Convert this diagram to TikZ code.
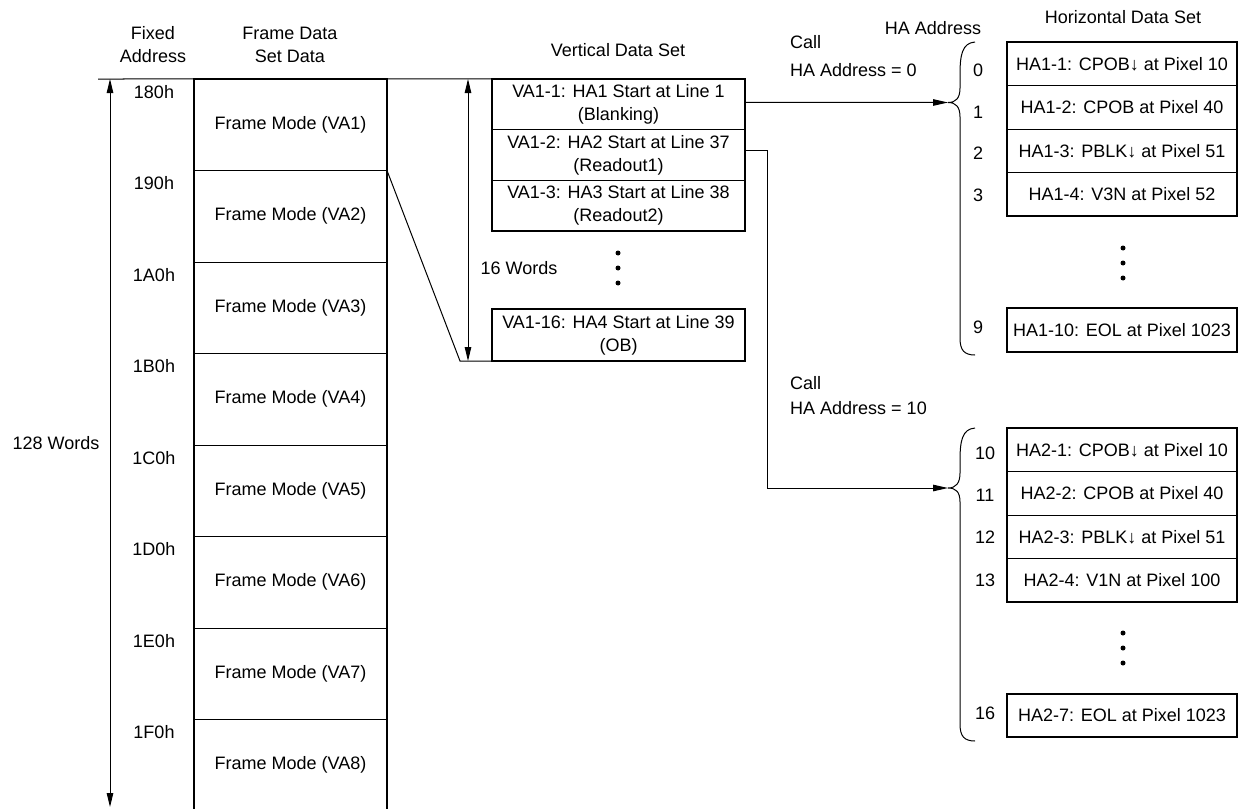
\documentclass[tikz,border=0pt]{standalone}
\usepackage{fontspec}
\setmainfont{Liberation Sans}
\usetikzlibrary{arrows.meta,calc}
\tikzset{
  lbl/.style={inner sep=0pt, font=\fontsize{18}{23}\selectfont, align=center},
  rowbox/.style={draw, line width=1pt, inner sep=0pt, outer sep=0pt, font=\fontsize{18}{23}\selectfont, align=center},
  frow/.style={rowbox, minimum width=193pt, minimum height=91.5pt},
  vrow/.style={rowbox, minimum width=253pt, minimum height=50.67pt},
  hrow/.style={rowbox, minimum width=230pt, minimum height=43.5pt},
  thickbox/.style={line width=2.2pt},
  ln/.style={line width=1pt},
  arr/.style={line width=1pt, -{Triangle[length=15pt,width=6.5pt]}},
  dbl/.style={line width=1pt, {Triangle[length=14pt,width=6.5pt]}-{Triangle[length=14pt,width=6.5pt]}},
  dot/.style={circle, fill, inner sep=0pt, minimum size=5pt},
}
\begin{document}
\begin{tikzpicture}[x=1pt,y=-1pt]
\useasboundingbox (0,0) rectangle (1238,808);
\clip (0,0) rectangle (1238,808);

% headers
\node[lbl] (hfix) at (153,44.5) {Fixed\\Address};
\node[lbl] (hfds) at (290,44.5) {Frame Data\\Set Data};
\node[lbl] (hvds) at (618,50) {Vertical Data Set};
\node[lbl] (hhaa) at (933,28) {HA Address};
\node[lbl] (hhds) at (1123,17) {Horizontal Data Set};

% frame data set column
\foreach \i in {1,...,8}{
  \node[frow] (f\i) at (290.5,{124.75+91.5*(\i-1)}) {Frame Mode (VA\i)};
}
\foreach \i/\a in {1/180h,2/190h,3/1A0h,4/1B0h,5/1C0h,6/1D0h,7/1E0h,8/1F0h}{
  \node[lbl] (a\i) at (154,{92+91.5*(\i-1)}) {\a};
}

% vertical data set
\node[vrow] (v1) at (618.5,104.33) {VA1-1: HA1 Start at Line 1\\(Blanking)};
\node[vrow] (v2) at (618.5,155) {VA1-2: HA2 Start at Line 37\\(Readout1)};
\node[vrow] (v3) at (618.5,205.67) {VA1-3: HA3 Start at Line 38\\(Readout2)};
\node[vrow, minimum height=52pt] (v16) at (618.5,335) {VA1-16: HA4 Start at Line 39\\(OB)};
\node[dot] (vd1) at (618,253) {};
\node[dot] (vd2) at (618,268) {};
\node[dot] (vd3) at (618,283) {};
\node[lbl] (w16) at (519,268) {16 Words};

% top line and left arrow
\coordinate (topL) at (98,79);
\draw[ln] (topL) -- (v1.north west);
\coordinate (lt) at (110,79);
\coordinate (lb) at (110,807);
\draw[dbl] (lt) -- (lb);
\node[lbl] (w128) at (56,443) {128 Words};

% 16 words arrow
\coordinate (wt) at (468,79);
\coordinate (wb) at (468,361);
\draw[dbl] (wt) -- (wb);

% diagonal
\coordinate (dg) at (460,361);
\draw[ln] (f1.south east) -- (dg) -- (v16.south west);

% thick outlines
\draw[thickbox] (f8.south west) -- (f1.north west) -- (f1.north east) -- (f8.south east);
\draw[thickbox] (v1.north west) rectangle (v3.south east);
\draw[thickbox] (v16.north west) rectangle (v16.south east);

% horizontal data set 1
\node[hrow] (h1) at (1122,63.75) {HA1-1: CPOB↓ at Pixel 10};
\node[hrow] (h2) at (1122,107.25) {HA1-2: CPOB at Pixel 40};
\node[hrow] (h3) at (1122,150.75) {HA1-3: PBLK↓ at Pixel 51};
\node[hrow] (h4) at (1122,194.25) {HA1-4: V3N at Pixel 52};
\node[hrow, minimum height=44pt] (h10) at (1122,330) {HA1-10: EOL at Pixel 1023};
\draw[thickbox] (h1.north west) rectangle (h4.south east);
\draw[thickbox] (h10.north west) rectangle (h10.south east);
\node[dot] (hd1) at (1123,248) {};
\node[dot] (hd2) at (1123,263) {};
\node[dot] (hd3) at (1123,278) {};
\node[lbl] (n0) at (978,70) {0};
\node[lbl] (n1) at (978,112) {1};
\node[lbl] (n2) at (978,153) {2};
\node[lbl] (n3) at (978,195) {3};
\node[lbl] (n9) at (978,327) {9};

% horizontal data set 2
\node[hrow] (k1) at (1122,449.75) {HA2-1: CPOB↓ at Pixel 10};
\node[hrow] (k2) at (1122,493.25) {HA2-2: CPOB at Pixel 40};
\node[hrow] (k3) at (1122,536.75) {HA2-3: PBLK↓ at Pixel 51};
\node[hrow] (k4) at (1122,580.25) {HA2-4: V1N at Pixel 100};
\node[hrow, minimum height=43pt] (k7) at (1122,715.5) {HA2-7: EOL at Pixel 1023};
\draw[thickbox] (k1.north west) rectangle (k4.south east);
\draw[thickbox] (k7.north west) rectangle (k7.south east);
\node[dot] (kd1) at (1123,633) {};
\node[dot] (kd2) at (1123,648) {};
\node[dot] (kd3) at (1123,663) {};
\node[lbl] (n10) at (985,453) {10};
\node[lbl] (n11) at (985,495) {11};
\node[lbl] (n12) at (985,537) {12};
\node[lbl] (n13) at (985,580) {13};
\node[lbl] (n16) at (985,713) {16};

% braces
\coordinate (b1) at (948,102.5);
\draw[ln] (975,42) .. controls (962,43) and (960,55) .. (960,75) -- (960,88)
  .. controls (960,98) and (956,102.5) .. (b1)
  .. controls (956,102.5) and (960,107) .. (960,117) -- (960,338)
  .. controls (960,350) and (964,355) .. (975,355);
\coordinate (b2) at (948,488);
\draw[ln] (975,428) .. controls (962,429) and (960,441) .. (960,461) -- (960,473)
  .. controls (960,483) and (956,488) .. (b2)
  .. controls (956,488) and (960,492) .. (960,502) -- (960,724)
  .. controls (960,736) and (964,741) .. (975,741);

% call labels
\node[lbl, anchor=west] (c1a) at (790,42) {Call};
\node[lbl, anchor=west] (c1b) at (790,70) {HA Address = 0};
\node[lbl, anchor=west] (c2a) at (790,383) {Call};
\node[lbl, anchor=west] (c2b) at (790,408) {HA Address = 10};

% connectors
\draw[arr] ([yshift=2pt]v1.east) -- (b1);
\draw[arr] ([yshift=5pt]v2.east) -- ++(22,0) |- (b2);
\end{tikzpicture}
\end{document}
